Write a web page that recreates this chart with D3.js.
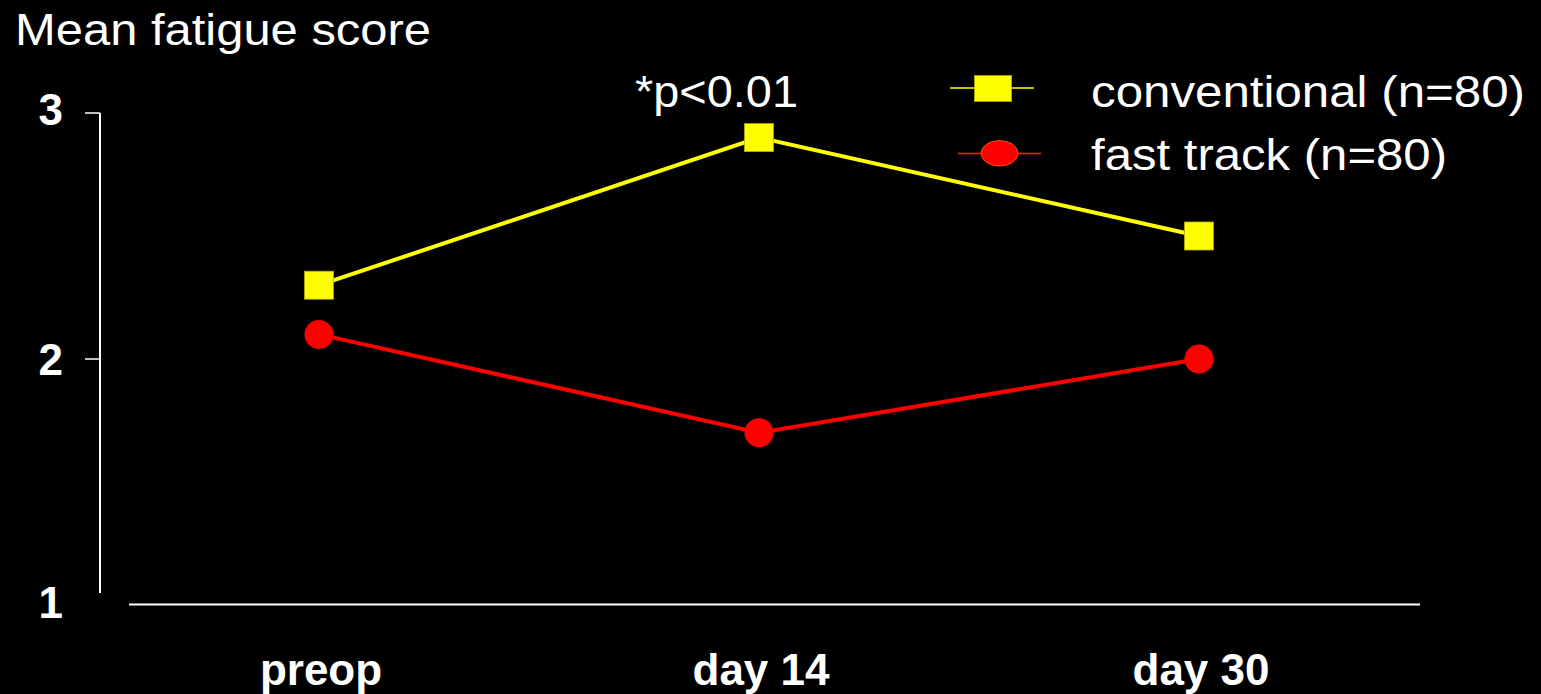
<!DOCTYPE html>
<html>
<head>
<meta charset="utf-8">
<script src="https://cdn.jsdelivr.net/npm/d3@7"></script>
<style>
  html, body { margin: 0; padding: 0; background: #000; }
  svg { display: block; }
  text { font-family: Arial, "Liberation Sans", sans-serif; fill: #fff; }
</style>
</head>
<body>
<svg id="chart" width="1541" height="694"></svg>
<script>
const categories = ["preop", "day 14", "day 30"];
const conventional = [2.3, 2.9, 2.5];
const fastTrack = [2.1, 1.7, 2.0];
const yTicks = [1, 2, 3];
const seriesNames = ["conventional (n=80)", "fast track (n=80)"];
const titleText = "Mean fatigue score";
const noteText = "*p<0.01";

const svg = d3.select("#chart");
svg.append("rect").attr("width", 1541).attr("height", 694).attr("fill", "#000");

const x = d3.scalePoint().domain(categories).range([319, 1199]);
const y = d3.scaleLinear().domain([1, 3]).range([605, 113]);

// Title
svg.append("text").attr("x", 15).attr("y", 45)
  .attr("font-size", 44)
  .attr("textLength", 416).attr("lengthAdjust", "spacingAndGlyphs")
  .text(titleText);

// Y axis line
svg.append("line").attr("x1", 100).attr("x2", 100)
  .attr("y1", y(3)).attr("y2", 593)
  .attr("stroke", "#fff").attr("stroke-width", 2);
// Y ticks (not at 1)
yTicks.filter(t => t > 1).forEach(t => {
  svg.append("line").attr("x1", 85).attr("x2", 100)
    .attr("y1", y(t)).attr("y2", y(t))
    .attr("stroke", "#fff").attr("stroke-width", 1.5);
});
// Y tick labels
const yOffsets = {1: -3, 2: 0, 3: -4};
yTicks.forEach(t => {
  svg.append("text").attr("x", 63).attr("y", y(t) + yOffsets[t])
    .attr("text-anchor", "end").attr("dominant-baseline", "central")
    .attr("font-size", 44).attr("font-weight", "bold")
    .text(t);
});

// X axis line
svg.append("line").attr("x1", 129).attr("x2", 1420)
  .attr("y1", 604.5).attr("y2", 604.5)
  .attr("stroke", "#fff").attr("stroke-width", 2);
// X labels
categories.forEach(c => {
  svg.append("text").attr("x", x(c) + 2).attr("y", 685)
    .attr("text-anchor", "middle")
    .attr("font-size", 44).attr("font-weight", "bold")
    .text(c);
});

const line = d3.line().x((d, i) => x(categories[i])).y(d => y(d));

// Conventional series
svg.append("path").datum(conventional).attr("d", line)
  .attr("fill", "none").attr("stroke", "#ffff00").attr("stroke-width", 4);
svg.selectAll(".sq").data(conventional).enter().append("rect")
  .attr("x", (d, i) => x(categories[i]) - 14.5)
  .attr("y", d => y(d) - 14)
  .attr("width", 29).attr("height", 28)
  .attr("fill", "#ffff00").attr("stroke", "#b0b000").attr("stroke-width", 0.8);

// Fast track series
svg.append("path").datum(fastTrack).attr("d", line)
  .attr("fill", "none").attr("stroke", "#ff0000").attr("stroke-width", 4);
svg.selectAll(".ci").data(fastTrack).enter().append("circle")
  .attr("cx", (d, i) => x(categories[i]))
  .attr("cy", d => y(d))
  .attr("r", 14.5)
  .attr("fill", "#ff0000");

// p-value note
svg.append("text").attr("x", 635).attr("y", 107)
  .attr("font-size", 44)
  .attr("textLength", 163).attr("lengthAdjust", "spacingAndGlyphs")
  .text(noteText);

// Legend
const lg = svg.append("g");
lg.append("line").attr("x1", 950).attr("x2", 1034).attr("y1", 88).attr("y2", 88)
  .attr("stroke", "#ffff00").attr("stroke-width", 1.5);
lg.append("rect").attr("x", 974.5).attr("y", 75.5).attr("width", 37).attr("height", 26)
  .attr("fill", "#ffff00").attr("stroke", "#b0b000").attr("stroke-width", 0.8);
lg.append("line").attr("x1", 958).attr("x2", 1041).attr("y1", 153.5).attr("y2", 153.5)
  .attr("stroke", "#ff2000").attr("stroke-width", 1.5);
lg.append("ellipse").attr("cx", 999.5).attr("cy", 153.3).attr("rx", 18.5).attr("ry", 12.7)
  .attr("fill", "#ff0000").attr("stroke", "#ff5000").attr("stroke-width", 1);

const legendTextLens = [434, 356];
const legendBaselines = [107, 170];
seriesNames.forEach((s, i) => {
  lg.append("text").attr("x", 1091).attr("y", legendBaselines[i])
    .attr("font-size", 45)
    .attr("textLength", legendTextLens[i]).attr("lengthAdjust", "spacingAndGlyphs")
    .text(s);
});
</script>
</body>
</html>
